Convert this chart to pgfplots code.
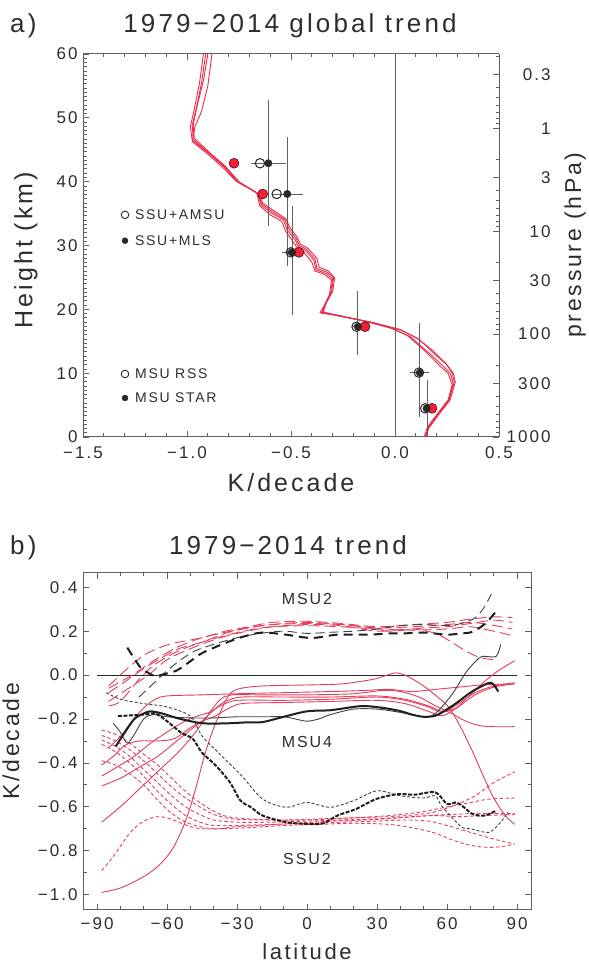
\documentclass[border=0pt]{standalone}
\usepackage{fontspec}
\setmainfont{Liberation Sans}[LetterSpace=12]
\usepackage{pgfplots}
\pgfplotsset{compat=1.18}
\definecolor{axgray}{RGB}{95,95,95}
\definecolor{txtgray}{RGB}{45,45,45}
\definecolor{pred}{RGB}{235,45,75}
\definecolor{dotred}{RGB}{245,30,50}
\definecolor{lred}{RGB}{228,62,92}
\definecolor{dkgray}{RGB}{40,40,40}
\definecolor{bargray}{RGB}{95,95,95}
\newcommand\fs[1]{\fontsize{#1bp}{#1bp}\selectfont}
\pgfplotsset{
  common/.style={scale only axis, clip=false, tick align=inside,
    major tick length=6bp, minor tick length=3.5bp,
    axis line style={axgray,line width=1bp,-},
    tick style={axgray,line width=0.8bp},
    ticklabel style={font=\fs{17}, text=txtgray},
    label style={font=\fs{25}, text=txtgray}},
  rs/.style={lred,line width=0.9bp,smooth},
  rd/.style={lred,line width=0.9bp,smooth,dash pattern=on 11bp off 5bp},
  rt/.style={lred,line width=0.9bp,smooth,dash pattern=on 3.5bp off 2.5bp},
}
\begin{document}
\begin{tikzpicture}
\useasboundingbox (0,0) rectangle (589bp,965bp);
\node[anchor=base, font=\fs{26}, text=txtgray, inner sep=0pt] at (290bp,932bp) {1979−2014 global trend};
\node[anchor=base west, font=\fs{26}, text=txtgray, inner sep=0pt] at (10bp,932bp) {a)};
\node[anchor=base, font=\fs{26}, text=txtgray, inner sep=0pt] at (288bp,410bp) {1979−2014 trend};
\node[anchor=base west, font=\fs{26}, text=txtgray, inner sep=0pt] at (10bp,410bp) {b)};

% ---------------- panel a ----------------
\begin{axis}[common, at={(83bp,528bp)}, anchor=south west, width=416bp, height=383bp,
  xmin=-1.5, xmax=0.5, ymin=0, ymax=60, axis y line*=left,
  xtick={-1.5,-1,-0.5,0,0.5}, xticklabels={−1.5,−1.0,−0.5,0.0,0.5}, minor x tick num=4,
  ytick={0,10,20,30,40,50,60}, yticklabels={0,10,20,30,40,50,60}, minor y tick num=14,
  xticklabel style={yshift=-6bp}, yticklabel style={xshift=-2bp},
  xlabel={K/decade}, xlabel style={at={(axis description cs:0.5,-0.12)}, anchor=center},
  ylabel={Height (km)}, ylabel style={at={(axis description cs:-0.137,0.488)}, anchor=center}]
\addplot[pred,line width=0.9bp] coordinates {(0.145,0) (0.16,1.5) (0.21,3.7) (0.26,5.8) (0.28,8.4) (0.265,10) (0.235,11) (0.165,13.1) (0.075,15.7) (-0.015,17.0) (-0.14,18.1) (-0.285,19.1) (-0.355,19.4) (-0.34,20.5) (-0.31,22.5) (-0.30,24.8) (-0.33,25.6) (-0.38,26.2) (-0.39,27.7) (-0.43,29.2) (-0.465,29.8) (-0.48,30.9) (-0.518,32.4) (-0.536,34.0) (-0.59,35.0) (-0.643,36.3) (-0.661,38.2) (-0.76,40.0) (-0.823,42.35) (-0.894,44.4) (-0.975,46.5) (-0.984,48.6) (-0.966,51.2) (-0.94,55.4) (-0.921,60)};
\addplot[pred,line width=0.9bp] coordinates {(0.145,0) (0.165,1.5) (0.215,3.7) (0.265,5.8) (0.29,8.6) (0.28,10) (0.25,11.3) (0.19,13.0) (0.12,15.2) (0.04,16.6) (-0.10,17.9) (-0.27,19.0) (-0.345,19.6) (-0.33,21) (-0.30,22.8) (-0.29,24.9) (-0.32,26.0) (-0.365,26.6) (-0.375,28) (-0.42,29.6) (-0.455,30.2) (-0.47,31.3) (-0.505,32.8) (-0.525,34.2) (-0.58,35.4) (-0.635,36.6) (-0.655,38.0) (-0.75,40.0) (-0.815,42.4) (-0.886,44.4) (-0.965,46.8) (-0.97,49) (-0.95,52) (-0.92,56) (-0.90,60)};
\addplot[pred,line width=0.9bp] coordinates {(0.14,0) (0.155,1.5) (0.205,3.7) (0.255,5.8) (0.275,8.2) (0.255,10) (0.22,11) (0.15,13.3) (0.06,15.9) (-0.03,17.2) (-0.15,18.2) (-0.29,19.2) (-0.36,19.5) (-0.345,20.3) (-0.315,22.3) (-0.305,24.6) (-0.34,25.5) (-0.385,26.0) (-0.40,27.4) (-0.44,29.0) (-0.47,29.6) (-0.49,30.6) (-0.525,32.2) (-0.545,33.8) (-0.60,34.8) (-0.65,36.2) (-0.665,38.3) (-0.765,40.1) (-0.83,42.3) (-0.90,44.3) (-0.975,46.3) (-0.96,48.8) (-0.93,51) (-0.90,55) (-0.88,60)};
\addplot[pred,line width=0.9bp] coordinates {(0.15,0) (0.16,1.5) (0.21,3.7) (0.26,5.8) (0.285,8.6) (0.275,10) (0.245,11.5) (0.18,13.6) (0.10,15.6) (0.02,16.9) (-0.12,18.0) (-0.28,19.0) (-0.35,19.5) (-0.335,20.8) (-0.305,22.7) (-0.295,25) (-0.325,25.8) (-0.375,26.4) (-0.385,27.9) (-0.425,29.4) (-0.46,30.0) (-0.475,31.1) (-0.51,32.6) (-0.53,34.1) (-0.585,35.2) (-0.64,36.5) (-0.658,38.1) (-0.755,40.0) (-0.82,42.4) (-0.89,44.4) (-0.97,46.6) (-0.975,48.8) (-0.955,51.5) (-0.93,55.5) (-0.91,60)};
\addplot[bargray,line width=0.8bp] coordinates {(0,0) (0,60)};
\addplot[only marks, mark=*, mark size=5bp, mark options={draw=none,fill=dotred}] coordinates {(-0.774,42.88) (-0.636,38.07) (-0.462,28.93) (-0.144,17.28) (0.178,4.49)};
\addplot[only marks, mark=none, bargray, error bars/.cd, x dir=both, x explicit, y dir=both, y explicit, error mark=none, error bar style={bargray,line width=0.8bp}] coordinates {
 (-0.609,42.88) += (0.083,9.9) -= (0.085,9.9)
 (-0.518,38.07) += (0.074,8.9) -= (0.075,11.3)
 (-0.492,28.93) += (0.06,7.2) -= (0.053,9.8)
 (-0.179,17.28) += (0.03,5.6) -= (0.03,4.5)
 (0.119,10.08) += (0.044,7.8) -= (0.048,7.0)
 (0.157,4.49) += (0.02,4.4) -= (0.02,4.49)};
\addplot[only marks, mark=o, mark size=4.7bp, mark options={draw=dkgray,line width=1bp}] coordinates {(-0.649,42.88) (-0.569,38.07) (-0.501,28.93) (-0.185,17.28) (0.115,10.08) (0.145,4.49)};
\addplot[only marks, mark=*, mark size=3.7bp, mark options={draw=dkgray,fill=dkgray}] coordinates {(-0.609,42.88) (-0.518,38.07) (-0.497,28.93) (-0.179,17.28) (0.119,10.08) (0.152,4.49)};
% legend symbols
\addplot[only marks, mark=o, mark size=3.8bp, mark options={draw=dkgray,line width=0.9bp}] coordinates {(-1.298,34.8) (-1.298,9.87)};
\addplot[only marks, mark=*, mark size=3bp, mark options={draw=dkgray,fill=dkgray}] coordinates {(-1.298,30.75) (-1.298,6.11)};
\node[anchor=west, font=\fs{14}, text=txtgray, inner sep=0pt] at (axis cs:-1.25,34.8) {SSU+AMSU};
\node[anchor=west, font=\fs{14}, text=txtgray, inner sep=0pt] at (axis cs:-1.25,30.75) {SSU+MLS};
\node[anchor=west, font=\fs{14}, text=txtgray, inner sep=0pt] at (axis cs:-1.25,9.87) {MSU RSS};
\node[anchor=west, font=\fs{14}, text=txtgray, inner sep=0pt] at (axis cs:-1.25,6.11) {MSU STAR};
\end{axis}
\begin{axis}[common, at={(83bp,528bp)}, anchor=south west, width=416bp, height=383bp,
  xmin=-1.5, xmax=0.5, ymin=0, ymax=60, axis x line=none, axis y line*=right,
  ytick={0,8.428,16.118,24.546,32.236,40.664,48.354,56.782},
  yticklabels={1000,300,100,30,10,3,1,0.3},
  minor ytick={0.7375,1.562,2.497,3.576,4.852,6.414,11.266,16.855,17.680,18.615,19.694,20.970,22.532,27.384,32.974,33.798,34.733,35.812,37.088,38.650,43.502,49.092,49.916,50.851,51.930,53.206,54.768,59.620},
  yticklabel style={anchor=east, xshift=55bp},
  ylabel={pressure (hPa)}, ylabel style={at={(axis description cs:1.183,0.501)}, anchor=center, font=\fs{23}}]
\addplot[draw=none] coordinates {(0,0)};
\end{axis}

% ---------------- panel b ----------------
\begin{axis}[common, at={(83bp,55bp)}, anchor=south west, width=448bp, height=337bp,
  xmin=-96, xmax=96, ymin=-1.07, ymax=0.465,
  xtick={-90,-60,-30,0,30,60,90}, xticklabels={−90,−60,−30,0,30,60,90}, minor x tick num=2,
  ytick={-1,-0.8,-0.6,-0.4,-0.2,0,0.2,0.4}, yticklabels={−1.0,−0.8,−0.6,−0.4,−0.2,0.0,0.2,0.4}, minor y tick num=1,
  xticklabel style={yshift=-4bp}, yticklabel style={xshift=-2bp},
  xlabel={latitude}, xlabel style={at={(axis description cs:0.5,-0.124)}, anchor=center, font=\fs{22}},
  ylabel={K/decade}, ylabel style={at={(axis description cs:-0.161,0.501)}, anchor=center, font=\fs{23}}]
\addplot[black!85,line width=0.8bp] coordinates {(-90,0) (90,0)};
% MSU4 red
\addplot[rs] coordinates {(-88,-0.99) (-80,-0.97) (-72,-0.93) (-66,-0.89) (-61,-0.84) (-57,-0.78) (-53,-0.69) (-50,-0.60) (-47,-0.49) (-44,-0.37) (-41,-0.27) (-38,-0.19) (-34,-0.10) (-30,-0.065) (-20,-0.05) (0,-0.045) (15,-0.04) (28,-0.02) (33,-0.005) (38,0.01) (43,-0.005) (50,-0.05) (56,-0.10) (61,-0.15) (66,-0.24) (71,-0.35) (76,-0.47) (80,-0.56) (85,-0.64) (89,-0.68)};
\addplot[rs] coordinates {(-88,-0.67) (-80,-0.60) (-72,-0.52) (-64,-0.44) (-56,-0.36) (-50,-0.29) (-45,-0.22) (-41,-0.16) (-37,-0.11) (-32,-0.09) (-20,-0.09) (0,-0.09) (20,-0.085) (32,-0.07) (40,-0.075) (48,-0.10) (55,-0.14) (62,-0.175) (68,-0.21) (74,-0.23) (80,-0.235) (89,-0.235)};
\addplot[rs] coordinates {(-88,-0.505) (-80,-0.47) (-72,-0.42) (-64,-0.37) (-57,-0.31) (-50,-0.25) (-45,-0.21) (-40,-0.16) (-35,-0.12) (-28,-0.10) (-10,-0.10) (10,-0.10) (30,-0.095) (42,-0.11) (52,-0.14) (58,-0.165) (64,-0.15) (72,-0.09) (80,-0.055) (89,-0.04)};
\addplot[rs] coordinates {(-88,-0.46) (-80,-0.41) (-74,-0.37) (-67,-0.31) (-60,-0.26) (-54,-0.22) (-48,-0.19) (-42,-0.17) (-37,-0.14) (-30,-0.115) (-10,-0.115) (10,-0.11) (30,-0.10) (42,-0.115) (52,-0.145) (58,-0.17) (65,-0.13) (72,-0.08) (80,-0.05) (89,-0.035)};
\addplot[rs] coordinates {(-88,-0.41) (-83,-0.37) (-78,-0.32) (-72,-0.30) (-64,-0.30) (-57,-0.29) (-50,-0.24) (-45,-0.21) (-40,-0.19) (-35,-0.16) (-28,-0.13) (-10,-0.125) (10,-0.12) (30,-0.115) (42,-0.13) (52,-0.165) (58,-0.185) (64,-0.15) (70,-0.09) (76,-0.03) (82,0.02) (89,0.065)};
\addplot[rs] coordinates {(-85,-0.33) (-80,-0.28) (-75,-0.21) (-70,-0.15) (-65,-0.11) (-60,-0.095) (-45,-0.09) (-30,-0.085) (-10,-0.08) (10,-0.075) (25,-0.07) (35,-0.065) (45,-0.075) (55,-0.065) (65,-0.055) (75,-0.045) (89,-0.04)};
% SSU2 red
\addplot[rt] coordinates {(-88,-0.89) (-84,-0.84) (-80,-0.78) (-76,-0.72) (-72,-0.68) (-68,-0.655) (-64,-0.645) (-60,-0.65) (-55,-0.67) (-50,-0.69) (-45,-0.70) (-38,-0.70) (-30,-0.69) (-20,-0.685) (-5,-0.675) (10,-0.665) (25,-0.66) (40,-0.65) (52,-0.64) (62,-0.635) (72,-0.63) (80,-0.63) (89,-0.63)};
\addplot[rt] coordinates {(-88,-0.25) (-82,-0.27) (-76,-0.31) (-70,-0.36) (-64,-0.41) (-58,-0.47) (-52,-0.53) (-46,-0.58) (-40,-0.62) (-34,-0.645) (-25,-0.655) (-10,-0.66) (5,-0.655) (20,-0.65) (35,-0.645) (48,-0.635) (56,-0.62) (64,-0.59) (72,-0.55) (80,-0.49) (89,-0.44)};
\addplot[rt] coordinates {(-88,-0.275) (-82,-0.30) (-76,-0.34) (-70,-0.39) (-64,-0.45) (-58,-0.51) (-52,-0.56) (-46,-0.60) (-40,-0.635) (-32,-0.655) (-20,-0.66) (0,-0.66) (20,-0.65) (35,-0.64) (48,-0.625) (58,-0.605) (68,-0.585) (78,-0.565) (89,-0.56)};
\addplot[rt] coordinates {(-88,-0.295) (-82,-0.325) (-76,-0.37) (-70,-0.43) (-64,-0.49) (-58,-0.55) (-52,-0.60) (-46,-0.635) (-40,-0.66) (-30,-0.67) (-15,-0.67) (0,-0.665) (15,-0.66) (30,-0.655) (45,-0.645) (55,-0.64) (65,-0.645) (75,-0.64) (89,-0.635)};
\addplot[rt] coordinates {(-88,-0.315) (-82,-0.35) (-76,-0.40) (-70,-0.46) (-64,-0.53) (-58,-0.59) (-52,-0.64) (-46,-0.67) (-40,-0.685) (-30,-0.685) (-15,-0.68) (0,-0.675) (15,-0.67) (30,-0.665) (42,-0.66) (52,-0.665) (60,-0.685) (68,-0.71) (76,-0.735) (83,-0.755) (89,-0.77)};
\addplot[rt] coordinates {(-88,-0.39) (-82,-0.41) (-76,-0.45) (-70,-0.50) (-64,-0.57) (-58,-0.63) (-52,-0.67) (-46,-0.69) (-40,-0.70) (-25,-0.695) (-10,-0.685) (5,-0.68) (20,-0.675) (35,-0.68) (45,-0.695) (55,-0.72) (62,-0.75) (70,-0.775) (78,-0.785) (84,-0.78) (89,-0.77)};
% MSU2 red
\addplot[rd] coordinates {(-85,-0.05) (-78,0.02) (-70,0.09) (-62,0.13) (-55,0.15) (-45,0.17) (-35,0.20) (-25,0.22) (-15,0.24) (0,0.245) (15,0.235) (30,0.22) (45,0.23) (60,0.24) (70,0.255) (80,0.265) (88,0.262)};
\addplot[rd] coordinates {(-85,-0.08) (-78,-0.03) (-70,0.03) (-62,0.08) (-55,0.12) (-45,0.15) (-35,0.19) (-25,0.215) (-15,0.23) (0,0.235) (15,0.23) (30,0.215) (45,0.22) (60,0.23) (70,0.24) (78,0.23) (88,0.21)};
\addplot[rd] coordinates {(-85,-0.14) (-80,-0.12) (-72,-0.02) (-65,0.05) (-55,0.11) (-45,0.15) (-35,0.18) (-25,0.205) (-15,0.22) (0,0.225) (15,0.22) (30,0.21) (45,0.205) (60,0.21) (70,0.22) (80,0.20) (88,0.18)};
\addplot[rd] coordinates {(-85,-0.12) (-75,-0.05) (-68,0.0) (-60,0.07) (-50,0.12) (-40,0.16) (-30,0.19) (-15,0.22) (0,0.23) (15,0.225) (30,0.20) (45,0.21) (55,0.19) (62,0.15) (68,0.11) (74,0.08) (80,0.07)};
\addplot[rd] coordinates {(-85,-0.06) (-75,0.0) (-65,0.07) (-55,0.13) (-45,0.17) (-35,0.195) (-20,0.225) (0,0.24) (20,0.225) (35,0.20) (50,0.215) (60,0.22) (70,0.235) (80,0.25) (88,0.24)};
% black lines
\addplot[black!75,line width=0.9bp,smooth] coordinates {(-83,-0.22) (-80,-0.26) (-77,-0.31) (-74,-0.27) (-70,-0.20) (-66,-0.18) (-60,-0.19) (-50,-0.195) (-40,-0.195) (-30,-0.19) (-20,-0.19) (-10,-0.19) (-5,-0.20) (0,-0.21) (5,-0.20) (10,-0.18) (20,-0.155) (30,-0.155) (40,-0.17) (50,-0.19) (55,-0.175) (62,-0.09) (68,0.01) (72,0.06) (75,0.085) (81,0.085) (83,0.14)};
\addplot[black!88,line width=2bp,smooth] coordinates {(-82,-0.325) (-78,-0.26) (-74,-0.20) (-70,-0.175) (-67,-0.165) (-62,-0.175) (-56,-0.195) (-50,-0.21) (-44,-0.22) (-35,-0.22) (-25,-0.215) (-19,-0.214) (-10,-0.19) (0,-0.165) (10,-0.16) (20,-0.145) (25,-0.141) (33,-0.15) (40,-0.164) (45,-0.18) (50,-0.19) (55,-0.185) (60,-0.156) (65,-0.12) (70,-0.08) (75,-0.05) (79,-0.035) (82,-0.075)};
\addplot[black!75,line width=0.9bp,smooth,dash pattern=on 9bp off 5bp] coordinates {(-72,-0.10) (-66,-0.04) (-60,0.02) (-54,0.07) (-48,0.11) (-40,0.14) (-30,0.17) (-20,0.19) (-10,0.2) (0,0.19) (10,0.195) (20,0.20) (30,0.21) (40,0.225) (50,0.23) (60,0.225) (66,0.235) (72,0.26) (76,0.31) (79,0.37)};
\addplot[black!88,line width=2bp,smooth,dash pattern=on 9bp off 6bp] coordinates {(-77,0.125) (-74,0.075) (-71,0.03) (-68,0.01) (-65,-0.005) (-61,0.005) (-56,0.02) (-51,0.055) (-45,0.10) (-35,0.146) (-27,0.176) (-19,0.194) (-9,0.184) (2,0.169) (13,0.184) (26,0.184) (36,0.19) (42,0.19) (50,0.194) (60,0.184) (66,0.19) (70,0.194) (74.5,0.219) (78,0.252) (81,0.29)};
\addplot[black!75,line width=0.9bp,smooth,dash pattern=on 3bp off 2bp] coordinates {(-86,-0.08) (-80,-0.11) (-70,-0.13) (-60,-0.145) (-50,-0.187) (-45,-0.277) (-38,-0.353) (-28,-0.459) (-19,-0.565) (-9,-0.602) (0,-0.58) (10,-0.602) (20,-0.572) (30,-0.527) (40,-0.55) (50,-0.56) (55,-0.55) (58,-0.60) (66,-0.69) (70,-0.70) (78,-0.716) (83,-0.67) (86,-0.625)};
\addplot[black!88,line width=2bp,smooth,dash pattern=on 4bp off 1.5bp] coordinates {(-81,-0.187) (-70,-0.18) (-65,-0.175) (-60,-0.21) (-54,-0.262) (-49,-0.29) (-45,-0.353) (-39,-0.413) (-33,-0.489) (-28.5,-0.572) (-24,-0.602) (-19,-0.64) (-9,-0.67) (0.5,-0.678) (7,-0.675) (13,-0.64) (21,-0.61) (29.5,-0.565) (39,-0.542) (46,-0.545) (55,-0.534) (60,-0.587) (64,-0.58) (67,-0.60) (71,-0.633) (76,-0.64) (81,-0.618)};
\node[font=\fs{16}, text=txtgray] at (axis cs:0,0.345) {MSU2};
\node[font=\fs{16}, text=txtgray] at (axis cs:0,-0.305) {MSU4};
\node[font=\fs{16}, text=txtgray] at (axis cs:0,-0.837) {SSU2};
\end{axis}
\end{tikzpicture}
\end{document}
